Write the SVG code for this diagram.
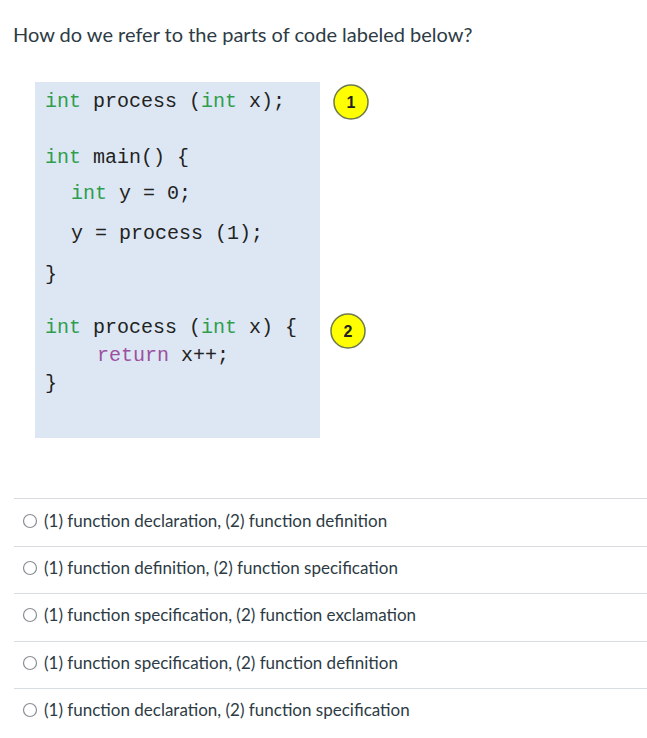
<svg xmlns="http://www.w3.org/2000/svg" width="647" height="738" viewBox="0 0 647 738">
<style>
.t{font-family:Lato,"Open Sans",sans-serif;fill:#2d3b45}
.c{font-family:"Liberation Mono",monospace;font-size:20px;fill:#222}
.k{fill:#2e9e4e}.r{fill:#9b4fa0}
.sep{stroke:#d8dde1;stroke-width:1}
.rad{fill:#fff;stroke:#8a8f94;stroke-width:1.2}
.b{fill:#ffff00;stroke:#6d7a4a;stroke-width:1.5}
.bn{font-family:"Liberation Sans",sans-serif;font-size:16px;font-weight:bold;fill:#222;text-anchor:middle}
</style>
<rect width="647" height="738" fill="#fff"/>
<text class="t" x="13" y="42" font-size="20">How do we refer to the parts of code labeled below?</text>
<g id="code">
<rect x="35" y="82" width="285" height="356" fill="#dde7f3"/>
<text class="c" x="45" y="107"><tspan class="k">int</tspan> process (<tspan class="k">int</tspan> x);</text>
<text class="c" x="45" y="163"><tspan class="k">int</tspan> main() {</text>
<text class="c" x="71" y="199"><tspan class="k">int</tspan> y = 0;</text>
<text class="c" x="71" y="239">y = process (1);</text>
<text class="c" x="45" y="280">}</text>
<text class="c" x="45" y="333"><tspan class="k">int</tspan> process (<tspan class="k">int</tspan> x) {</text>
<text class="c" x="97" y="361"><tspan class="r">return</tspan> x++;</text>
<text class="c" x="45" y="389">}</text>
</g>
<g id="badge1"><circle class="b" cx="351" cy="102" r="17"/><text class="bn" x="351" y="108">1</text></g>
<g id="badge2"><circle class="b" cx="348" cy="331" r="17"/><text class="bn" x="348" y="337">2</text></g>
<g id="options">
<line class="sep" x1="14" y1="498.5" x2="647" y2="498.5"/>
<line class="sep" x1="14" y1="546.5" x2="647" y2="546.5"/>
<line class="sep" x1="14" y1="593.5" x2="647" y2="593.5"/>
<line class="sep" x1="14" y1="641.5" x2="647" y2="641.5"/>
<line class="sep" x1="14" y1="688.5" x2="647" y2="688.5"/>
<circle class="rad" cx="30" cy="521" r="6.5"/>
<circle class="rad" cx="30" cy="568" r="6.5"/>
<circle class="rad" cx="30" cy="615" r="6.5"/>
<circle class="rad" cx="30" cy="663" r="6.5"/>
<circle class="rad" cx="30" cy="710" r="6.5"/>
<text class="t" x="44" y="527" font-size="17">(1) function declaration, (2) function definition</text>
<text class="t" x="44" y="574" font-size="17">(1) function definition, (2) function specification</text>
<text class="t" x="44" y="621" font-size="17">(1) function specification, (2) function exclamation</text>
<text class="t" x="44" y="669" font-size="17">(1) function specification, (2) function definition</text>
<text class="t" x="44" y="716" font-size="17">(1) function declaration, (2) function specification</text>
</g>
</svg>
